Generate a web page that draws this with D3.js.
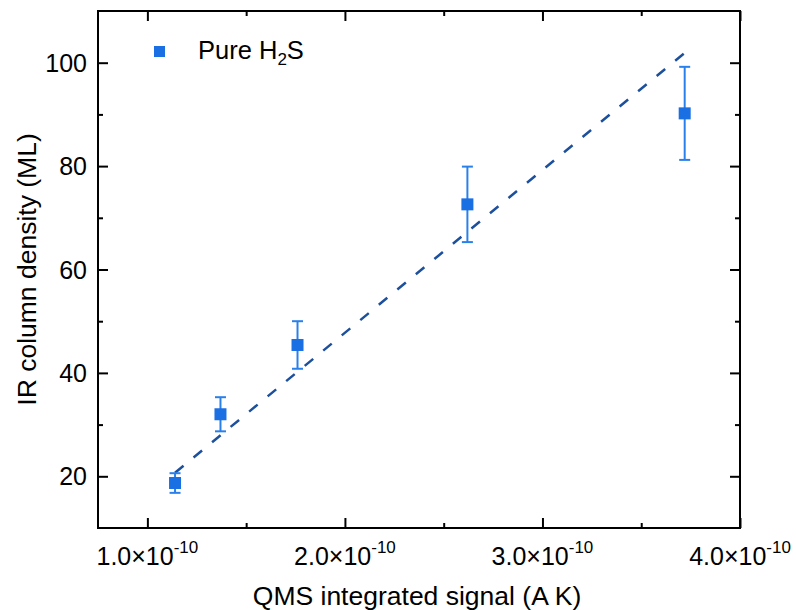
<!DOCTYPE html>
<html>
<head>
<meta charset="utf-8">
<script src="https://cdn.jsdelivr.net/npm/d3@7"></script>
<style>
  body { margin: 0; background: #fff; }
  text { font-family: "Liberation Sans", Arial, sans-serif; fill: #000; }
</style>
</head>
<body>
<div id="chart"></div>
<script>
// measured data (QMS signal vs IR column density)
const qmsSignal = [1.14e-10, 1.37e-10, 1.76e-10, 2.62e-10, 3.72e-10];
const columnDensity = [18.7, 32.0, 45.4, 72.6, 90.2];
const densityErr = [1.9, 3.3, 4.6, 7.3, 9.0];

// linear fit end points
const fitX = [1.14e-10, 3.72e-10];
const fitY = [20.7, 101.9];

const xMajor = [1e-10, 2e-10, 3e-10, 4e-10];
const xMinor = [1.5e-10, 2.5e-10, 3.5e-10];
const yMajor = [20, 40, 60, 80, 100];
const yMinor = [30, 50, 70, 90];
const xTickMant = ["1.0", "2.0", "3.0", "4.0"];

const margin = { top: 11, right: 56, bottom: 82, left: 98 },
    width = 796 - margin.left - margin.right,
    height = 610 - margin.top - margin.bottom;

const svg = d3.select("#chart")
    .append("svg")
    .attr("width", 796)
    .attr("height", 610)
    .append("g")
    .attr("transform", `translate(${margin.left},${margin.top})`);

const x = d3.scaleLinear().domain([0.75e-10, 4.0e-10]).range([0, width]);
const y = d3.scaleLinear().domain([10, 110]).range([height, 0]);

const pointColor = "#1a6fe3";
const errColor = "#2a80ea";
const fitColor = "#1c4f9c";

// ticks, all pointing into the plot
function styleAxis(g) {
    g.select(".domain").remove();
    g.selectAll(".tick line").attr("stroke", "#000").attr("stroke-width", 2);
    g.selectAll(".tick text").remove();
}
svg.append("g").attr("transform", `translate(0,${height})`)
    .call(d3.axisBottom(x).tickValues(xMajor).tickSizeInner(-10)).call(styleAxis);
svg.append("g").attr("transform", `translate(0,${height})`)
    .call(d3.axisBottom(x).tickValues(xMinor).tickSizeInner(-5)).call(styleAxis);
svg.append("g")
    .call(d3.axisTop(x).tickValues(xMajor).tickSizeInner(-10)).call(styleAxis);
svg.append("g")
    .call(d3.axisTop(x).tickValues(xMinor).tickSizeInner(-5)).call(styleAxis);
svg.append("g")
    .call(d3.axisLeft(y).tickValues(yMajor).tickSizeInner(-10)).call(styleAxis);
svg.append("g")
    .call(d3.axisLeft(y).tickValues(yMinor).tickSizeInner(-5)).call(styleAxis);
svg.append("g").attr("transform", `translate(${width},0)`)
    .call(d3.axisRight(y).tickValues(yMajor).tickSizeInner(-10)).call(styleAxis);
svg.append("g").attr("transform", `translate(${width},0)`)
    .call(d3.axisRight(y).tickValues(yMinor).tickSizeInner(-5)).call(styleAxis);

// frame
svg.append("rect")
    .attr("width", width).attr("height", height)
    .attr("fill", "none").attr("stroke", "#000").attr("stroke-width", 2);

// y tick labels
svg.selectAll(".ylab")
    .data(yMajor)
    .join("text")
    .attr("x", -11)
    .attr("y", d => y(d))
    .attr("dy", "0.36em")
    .attr("text-anchor", "end")
    .style("font-size", "25px")
    .text(d => d);

// x tick labels with exponent
const xl = svg.selectAll(".xlab")
    .data(xMajor)
    .join("text")
    .attr("x", d => x(d))
    .attr("y", height + 37)
    .attr("text-anchor", "middle")
    .style("font-size", "25px");
xl.append("tspan").text((d, i) => xTickMant[i] + "\u00d710");
xl.append("tspan").attr("dy", -12).style("font-size", "17px").text("-10");

// axis titles
svg.append("text")
    .attr("x", width / 2 - 2)
    .attr("y", height + 77)
    .attr("text-anchor", "middle")
    .style("font-size", "26.5px")
    .text("QMS integrated signal (A K)");

svg.append("text")
    .attr("transform", `translate(${36 - margin.left},${height / 2}) rotate(-90)`)
    .attr("text-anchor", "middle")
    .style("font-size", "26.5px")
    .text("IR column density (ML)");

// fit line
svg.append("path")
    .datum(fitX.map((d, i) => [d, fitY[i]]))
    .attr("fill", "none")
    .attr("stroke", fitColor)
    .attr("stroke-width", 2.5)
    .attr("stroke-dasharray", "11,13")
    .attr("d", d3.line().x(d => x(d[0])).y(d => y(d[1])));

// error bars
const pts = qmsSignal.map((d, i) => ({ x: d, y: columnDensity[i], e: densityErr[i] }));
const eb = svg.selectAll(".err").data(pts).join("g").attr("stroke", errColor).attr("stroke-width", 2);
eb.append("line")
    .attr("x1", d => x(d.x)).attr("x2", d => x(d.x))
    .attr("y1", d => y(d.y - d.e)).attr("y2", d => y(d.y + d.e));
eb.append("line")
    .attr("x1", d => x(d.x) - 5.5).attr("x2", d => x(d.x) + 5.5)
    .attr("y1", d => y(d.y + d.e)).attr("y2", d => y(d.y + d.e));
eb.append("line")
    .attr("x1", d => x(d.x) - 5.5).attr("x2", d => x(d.x) + 5.5)
    .attr("y1", d => y(d.y - d.e)).attr("y2", d => y(d.y - d.e));

// markers
svg.selectAll(".pt")
    .data(pts)
    .join("rect")
    .attr("x", d => x(d.x) - 6)
    .attr("y", d => y(d.y) - 6)
    .attr("width", 12).attr("height", 12)
    .attr("fill", pointColor);

// legend
svg.append("rect")
    .attr("x", 154 - margin.left).attr("y", 46 - margin.top)
    .attr("width", 11).attr("height", 11)
    .attr("fill", pointColor);
const lg = svg.append("text")
    .attr("x", 198 - margin.left).attr("y", 59 - margin.top)
    .style("font-size", "25.5px");
lg.append("tspan").text("Pure H");
lg.append("tspan").attr("dy", 6).style("font-size", "17px").text("2");
lg.append("tspan").attr("dy", -6).text("S");
</script>
</body>
</html>
